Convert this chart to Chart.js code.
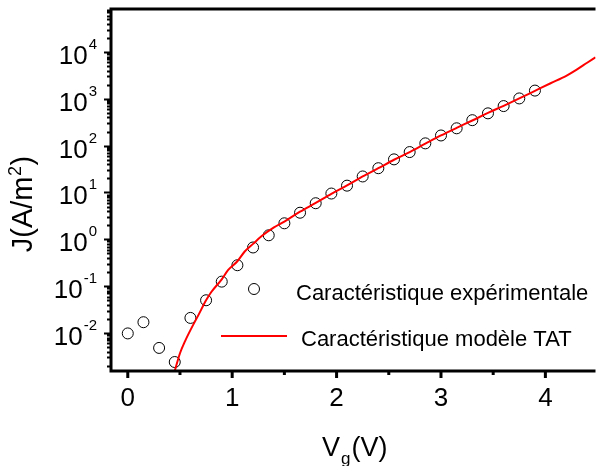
<!DOCTYPE html>
<html>
<head>
<meta charset="utf-8">
<script src="https://cdn.jsdelivr.net/npm/chart.js@4.4.1/dist/chart.umd.min.js"></script>
<style>
  html,body{margin:0;padding:0;background:#fff;}
  #wrap{width:602px;height:466px;position:relative;}
</style>
</head>
<body>
<div id="wrap"><canvas id="c" width="602" height="466"></canvas></div>
<script>
// ----- data -----
const expVg = [0, 0.15, 0.3, 0.45, 0.6, 0.75, 0.9, 1.05, 1.2, 1.35, 1.5, 1.65, 1.8, 1.95,
  2.1, 2.25, 2.4, 2.55, 2.7, 2.85, 3.0, 3.15, 3.3, 3.45, 3.6, 3.75, 3.9];
const expJ = [0.0098, 0.017, 0.0048, 0.0024, 0.021, 0.05, 0.125, 0.28, 0.67, 1.22, 2.2, 3.7, 5.9, 9.5,
  14, 22, 33, 51, 73, 112, 165, 235, 350, 490, 700, 1020, 1500];

const tatVg = [0.45, 0.5, 0.55, 0.6, 0.68, 0.75, 0.8, 0.9, 0.96, 1.05, 1.12, 1.2, 1.28, 1.4, 1.5,
  1.65, 1.8, 1.95, 2.1, 2.25, 2.4, 2.55, 2.7, 2.85, 3.0, 3.15, 3.3, 3.45, 3.6, 3.75, 3.9,
  4.05, 4.2, 4.3, 4.4, 4.48];
const tatJ = [0.00155, 0.0037, 0.0068, 0.0115, 0.025, 0.05, 0.075, 0.14, 0.22, 0.34, 0.55, 0.8, 1.16, 1.8, 2.4,
  3.9, 6.0, 9.4, 14.2, 22, 33, 50, 73, 110, 165, 240, 345, 500, 710, 1020, 1480,
  2150, 3100, 4200, 5900, 7700];

const xTicks = [0, 1, 2, 3, 4];
const xMinorTicks = [0.5, 1.5, 2.5, 3.5];
const yExponents = [-2, -1, 0, 1, 2, 3, 4];

const legendLabels = ["Caractéristique expérimentale", "Caractéristique modèle TAT"];
const FONT = '"Liberation Sans", Arial, sans-serif';

const toPts = (xs, ys)=> xs.map((x,i)=>({x, y: ys[i]}));

// ----- axes, labels and legend drawn on top of the library scales -----
const framePlugin = {
  id: "frame",
  afterDraw(chart){
    const ctx = chart.ctx, a = chart.chartArea;
    const xs = chart.scales.x, ys = chart.scales.y;
    ctx.save();
    ctx.strokeStyle = "#000"; ctx.fillStyle = "#000";

    // frame: left, bottom, top
    ctx.lineWidth = 3;
    ctx.beginPath();
    ctx.moveTo(a.left, a.top - 1.5); ctx.lineTo(a.left, a.bottom + 1.5);
    ctx.moveTo(a.left - 1.5, a.bottom); ctx.lineTo(a.right, a.bottom);
    ctx.moveTo(a.left - 1.5, a.top); ctx.lineTo(a.right, a.top);
    ctx.stroke();

    // x ticks
    ctx.lineWidth = 3;
    ctx.beginPath();
    xTicks.forEach(v=>{ const p = xs.getPixelForValue(v); ctx.moveTo(p, a.bottom); ctx.lineTo(p, a.bottom + 7); });
    xMinorTicks.forEach(v=>{ const p = xs.getPixelForValue(v); ctx.moveTo(p, a.bottom); ctx.lineTo(p, a.bottom + 4); });
    ctx.stroke();

    // y ticks (log, 1..9 per decade)
    ctx.lineWidth = 2;
    ctx.beginPath();
    for(let e = yExponents[0] - 1; e <= yExponents[yExponents.length-1]; e++){
      for(let k = 1; k <= 9; k++){
        const v = k * Math.pow(10, e);
        if(v <= ys.min || v >= ys.max) continue;
        const p = Math.round(ys.getPixelForValue(v)) + 0.5;
        ctx.moveTo(a.left, p); ctx.lineTo(a.left - (k === 1 ? 7 : 4), p);
      }
    }
    ctx.stroke();

    // x tick labels
    ctx.font = "26px " + FONT;
    ctx.textAlign = "center"; ctx.textBaseline = "alphabetic";
    xTicks.forEach(v=> ctx.fillText(String(v), xs.getPixelForValue(v), 406));

    // y tick labels 10^n
    yExponents.forEach(e=>{
      const p = ys.getPixelForValue(Math.pow(10, e));
      ctx.font = "15px " + FONT;
      ctx.textAlign = "right";
      const sup = String(e);
      const sw = ctx.measureText(sup).width;
      ctx.fillText(sup, 97, p - 3);
      ctx.font = "26px " + FONT;
      ctx.fillText("10", 97 - sw - 1, p + 12);
    });

    // x axis title V_g(V)
    ctx.font = "27px " + FONT;
    ctx.textAlign = "left";
    ctx.fillText("V", 322, 456);
    const vw = ctx.measureText("V").width;
    ctx.font = "17px " + FONT;
    ctx.fillText("g", 322 + vw + 1, 464);
    const gw = ctx.measureText("g").width;
    ctx.font = "27px " + FONT;
    ctx.fillText("(V)", 322 + vw + gw + 2, 456);

    // y axis title J(A/m2), rotated
    ctx.save();
    ctx.translate(32, 204);
    ctx.rotate(-Math.PI/2);
    ctx.textAlign = "left";
    ctx.font = "29px " + FONT;
    const w1 = ctx.measureText("J(A/m").width, w3 = ctx.measureText(")").width;
    ctx.font = "18px " + FONT;
    const w2 = ctx.measureText("2").width;
    let x0 = -(w1 + w2 + w3 + 1) / 2;
    ctx.font = "29px " + FONT;
    ctx.fillText("J(A/m", x0, 0);
    ctx.font = "18px " + FONT;
    ctx.fillText("2", x0 + w1 + 0.5, -11);
    ctx.font = "29px " + FONT;
    ctx.fillText(")", x0 + w1 + w2 + 1, 0);
    ctx.restore();

    // legend
    const d0 = chart.data.datasets[0], d1 = chart.data.datasets[1];
    ctx.lineWidth = d0.borderWidth; ctx.strokeStyle = d0.borderColor;
    ctx.beginPath(); ctx.arc(254, 289, d0.pointRadius, 0, Math.PI*2); ctx.stroke();
    ctx.lineWidth = d1.borderWidth; ctx.strokeStyle = d1.borderColor;
    ctx.beginPath(); ctx.moveTo(221, 336); ctx.lineTo(287, 336); ctx.stroke();
    ctx.fillStyle = "#000";
    ctx.font = "22px " + FONT;
    ctx.textAlign = "left";
    ctx.fillText(legendLabels[0], 296, 300);
    ctx.fillText(legendLabels[1], 301, 346);

    ctx.restore();
  }
};

new Chart(document.getElementById("c"), {
  type: "scatter",
  data: {
    datasets: [
      { label: legendLabels[0], data: toPts(expVg, expJ), showLine: false,
        pointStyle: "circle", pointRadius: 5.5, pointBackgroundColor: "rgba(0,0,0,0)",
        borderColor: "#000", pointBorderColor: "#000", pointBorderWidth: 1, borderWidth: 1, order: 1 },
      { label: legendLabels[1], data: toPts(tatVg, tatJ), showLine: true, pointRadius: 0,
        borderColor: "#ff0000", borderWidth: 2, cubicInterpolationMode: "monotone", order: 0 }
    ]
  },
  options: {
    responsive: false,
    animation: false,
    layout: { padding: { left: 111, top: 9, right: 0, bottom: 95 } },
    plugins: { legend: { display: false }, tooltip: { enabled: false } },
    scales: {
      x: { type: "linear", display: false, min: -0.1607, max: 4.48 },
      y: { type: "logarithmic", display: false, min: 0.001544, max: 82800 }
    }
  },
  plugins: [framePlugin]
});
</script>
</body>
</html>
